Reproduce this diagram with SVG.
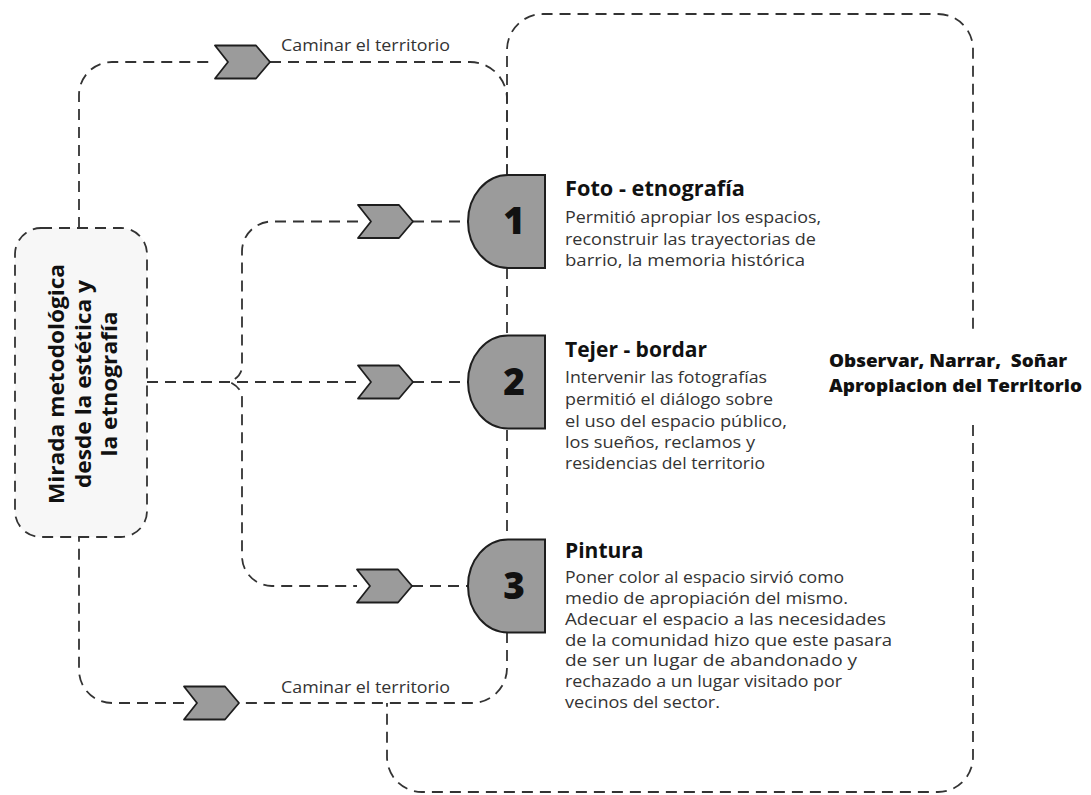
<svg xmlns="http://www.w3.org/2000/svg" width="1091" height="795" viewBox="0 0 1091 795">
<style>
.dash{fill:none;stroke:#333;stroke-width:1.8;stroke-dasharray:11 7}
.chev{fill:#9b9b9b;stroke:#1e1e1e;stroke-width:1.8;stroke-linejoin:round}
.node{fill:#9b9b9b;stroke:#1e1e1e;stroke-width:2}
.num{font-family:"Open Sans","DejaVu Sans",sans-serif;font-weight:800;font-size:37px;fill:#111;text-anchor:middle}
.title{font-family:"Open Sans","DejaVu Sans",sans-serif;font-weight:700;font-size:21px;fill:#111}
.body{font-family:"Open Sans","DejaVu Sans",sans-serif;font-size:16px;fill:#333}
.lab{font-family:"Open Sans","DejaVu Sans",sans-serif;font-size:16px;fill:#333}
.big{font-family:"Open Sans","DejaVu Sans",sans-serif;font-weight:800;font-size:18px;fill:#111}
.side{font-family:"Open Sans","DejaVu Sans",sans-serif;font-weight:700;font-size:21px;fill:#111;text-anchor:middle}
</style>
<defs>
<path id="chevron" d="M0 0 L41 0 L55 16.5 L41 33 L0 33 L13 16.5 Z"/>
<path id="dshape" d="M40 0 L77 0 L77 93 L40 93 A40 46.5 0 0 1 40 0 Z"/>
</defs>

<g id="connectors">
  <path class="dash" d="M79 228 L79 95 A33 33 0 0 1 112 62 L215 62"/>
  <path class="dash" d="M270 62 L470 62 A37 37 0 0 1 507 99 L507 175"/>
  <path class="dash" d="M507 175 L507 50 A36 36 0 0 1 543 14 L938 14 A35 35 0 0 1 973 49 L973 335"/>
  <path class="dash" d="M973 425 L973 757 A35 35 0 0 1 938 792 L422 792 A35 35 0 0 1 387 757 L387 703"/>
  <path class="dash" d="M507 268 L507 335"/>
  <path class="dash" d="M507 430 L507 537"/>
  <path class="dash" d="M507 632 L507 668 A35 35 0 0 1 472 703 L240 703"/>
  <path class="dash" d="M184 703 L112 703 A33 33 0 0 1 79 670 L79 537"/>
  <path class="dash" d="M147 382 L358 382"/>
  <path class="dash" d="M413 382 L468 382"/>
  <path class="dash" d="M358 221.5 L272 221.5 A30 30 0 0 0 242 251.5 L242 366 Q242 376 230 382 Q242 388 242 398 L242 556 A30 30 0 0 0 272 586 L357 586"/>
  <path class="dash" d="M413 221.5 L468 221.5"/>
  <path class="dash" d="M412 586 L468 586"/>
  <use href="#chevron" class="chev" x="215" y="45.5"/>
  <use href="#chevron" class="chev" x="358" y="205"/>
  <use href="#chevron" class="chev" x="358" y="365.5"/>
  <use href="#chevron" class="chev" x="357" y="569.5"/>
  <use href="#chevron" class="chev" x="184" y="686.5"/>
  <text class="lab" x="281" y="51" textLength="169" lengthAdjust="spacingAndGlyphs">Caminar el territorio</text>
  <text class="lab" x="281" y="693" textLength="169" lengthAdjust="spacingAndGlyphs">Caminar el territorio</text>
</g>

<g id="source">
  <rect x="15" y="228" width="132" height="309" rx="26" class="dash" style="fill:#f7f7f7"/>
  <g transform="translate(81,384) rotate(-90)">
    <text class="side" x="0" y="-17" textLength="240" lengthAdjust="spacingAndGlyphs">Mirada metodológica</text>
    <text class="side" x="0" y="10" textLength="208" lengthAdjust="spacingAndGlyphs">desde la estética y</text>
    <text class="side" x="0" y="36" textLength="145" lengthAdjust="spacingAndGlyphs">la etnografía</text>
  </g>
</g>

<g id="node1">
  <use href="#dshape" class="node" x="468" y="175"/>
  <text class="num" x="514" y="234">1</text>
  <text class="title" x="565" y="196" textLength="180" lengthAdjust="spacingAndGlyphs">Foto - etnografía</text>
  <text class="body" x="565" y="223" textLength="256" lengthAdjust="spacingAndGlyphs">Permitió apropiar los espacios,</text>
  <text class="body" x="565" y="245" textLength="251" lengthAdjust="spacingAndGlyphs">reconstruir las trayectorias de</text>
  <text class="body" x="565" y="266" textLength="240" lengthAdjust="spacingAndGlyphs">barrio, la memoria histórica</text>
</g>

<g id="node2">
  <use href="#dshape" class="node" x="468" y="335.5"/>
  <text class="num" x="514" y="395">2</text>
  <text class="title" x="565" y="357">Tejer - bordar</text>
  <text class="body" x="565" y="383" textLength="202" lengthAdjust="spacingAndGlyphs">Intervenir las fotografías</text>
  <text class="body" x="565" y="405" textLength="208" lengthAdjust="spacingAndGlyphs">permitió el diálogo sobre</text>
  <text class="body" x="565" y="427" textLength="222" lengthAdjust="spacingAndGlyphs">el uso del espacio público,</text>
  <text class="body" x="565" y="448" textLength="190" lengthAdjust="spacingAndGlyphs">los sueños, reclamos y</text>
  <text class="body" x="565" y="469" textLength="200" lengthAdjust="spacingAndGlyphs">residencias del territorio</text>
</g>

<g id="node3">
  <use href="#dshape" class="node" x="468" y="539.5"/>
  <text class="num" x="514" y="599">3</text>
  <text class="title" x="565" y="558">Pintura</text>
  <text class="body" x="565" y="583" textLength="279" lengthAdjust="spacingAndGlyphs">Poner color al espacio sirvió como</text>
  <text class="body" x="565" y="604" textLength="283" lengthAdjust="spacingAndGlyphs">medio de apropiación del mismo.</text>
  <text class="body" x="565" y="625" textLength="321" lengthAdjust="spacingAndGlyphs">Adecuar el espacio a las necesidades</text>
  <text class="body" x="565" y="646" textLength="327" lengthAdjust="spacingAndGlyphs">de la comunidad hizo que este pasara</text>
  <text class="body" x="565" y="666" textLength="292" lengthAdjust="spacingAndGlyphs">de ser un lugar de abandonado y</text>
  <text class="body" x="565" y="687" textLength="277" lengthAdjust="spacingAndGlyphs">rechazado a un lugar visitado por</text>
  <text class="body" x="565" y="708" textLength="155" lengthAdjust="spacingAndGlyphs">vecinos del sector.</text>
</g>

<g id="result">
  <text class="big" x="829" y="367" xml:space="preserve" textLength="238" lengthAdjust="spacingAndGlyphs">Observar, Narrar,  Soñar</text>
  <text class="big" x="829" y="392" textLength="253" lengthAdjust="spacingAndGlyphs">Apropiacion del Territorio</text>
</g>
</svg>
